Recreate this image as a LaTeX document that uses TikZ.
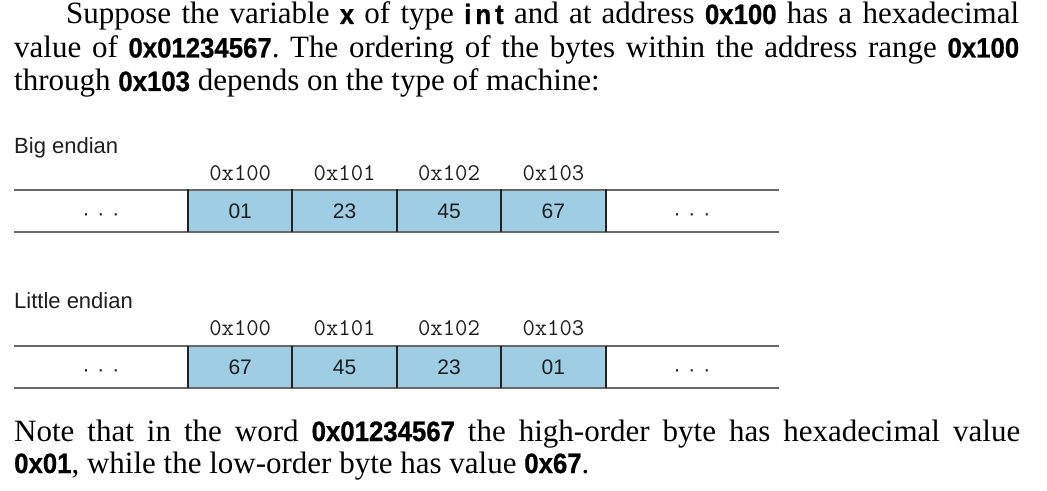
\documentclass[tikz,border=0pt]{standalone}
\usepackage{fontspec}
\setmainfont{Liberation Serif}
\newfontfamily\hvfont{Liberation Sans}
\newfontfamily\codebold[FakeStretch=0.92,FakeBold=0.8]{Liberation Sans}
\newcommand\hexb[1]{{\codebold\bfseries\fontsize{28bp}{30bp}\selectfont #1}}
\definecolor{cellblue}{RGB}{159,206,228}
\definecolor{hgray}{RGB}{105,105,105}
\definecolor{vdark}{RGB}{35,35,35}
\definecolor{txtdark}{RGB}{30,30,30}
\begin{document}
\begin{tikzpicture}[x=1bp,y=-1bp,
  body/.style={anchor=base west, inner sep=0, font=\frenchspacing\fontsize{31bp}{34bp}\selectfont},
  lab/.style={anchor=base west, inner sep=0, text=txtdark, font=\hvfont\fontsize{22bp}{26bp}\selectfont},
  addr/.style={anchor=base, inner sep=0, text=txtdark, font=\ttfamily\fontsize{24bp}{28bp}\selectfont},
  cell/.style={fill=cellblue, minimum width=104.4bp, minimum height=42.6bp, inner sep=0, text=txtdark, font=\hvfont\fontsize{21bp}{24bp}\selectfont},
  dotsty/.style={anchor=base, inner sep=0, text=txtdark, font=\hvfont\fontsize{21bp}{24bp}\selectfont},
  hline/.style={draw=hgray, line width=1.8bp},
  vline/.style={draw=vdark, line width=1.8bp}]
\useasboundingbox (0,0) rectangle (1047,491);

% --- top paragraph
\node[body] (t1) at (66,24) {\makebox[953bp][s]{Suppose the variable \hexb{x} of type \hexb{i\hspace{4bp}n\hspace{4bp}t} and at address \hexb{0x100} has a hexadecimal}};
\node[body] (t2) at (14,57.5) {\makebox[1005bp][s]{value of \hexb{0x01234567}. The ordering of the bytes within the address range \hexb{0x100}}};
\node[body] (t3) at (14,91) {through \hexb{0x103} depends on the type of machine:};

% --- big endian
\node[lab] (bigl) at (14,153.3) {Big endian};
\foreach \v [count=\i from 0] in {01,23,45,67}
  \node[cell] (b\i) at (240.2+104.4*\i,211) {\v};
\foreach \a [count=\i from 0] in {0x100,0x101,0x102,0x103}
  \node[addr] (ba\i) at (240.2+104.4*\i,180.7) {\a};
\coordinate (bL1) at (14,189.7);
\coordinate (bR1) at (779,189.7);
\coordinate (bL2) at (14,232.3);
\coordinate (bR2) at (779,232.3);
\draw[hline] (bL1) -- (bR1);
\draw[hline] (bL2) -- (bR2);
\foreach \i in {0,...,3}
  \draw[vline] (b\i.north west) -- (b\i.south west);
\draw[vline] (b3.north east) -- (b3.south east);
\node[dotsty] (bdl) at (101,220.5) {·\hspace{8bp}·\hspace{8bp}·};
\node[dotsty] (bdr) at (692,220.5) {·\hspace{8bp}·\hspace{8bp}·};

% --- little endian
\node[lab] (litl) at (14,308.5) {Little endian};
\foreach \v [count=\i from 0] in {67,45,23,01}
  \node[cell] (l\i) at (240.2+104.4*\i,367) {\v};
\foreach \a [count=\i from 0] in {0x100,0x101,0x102,0x103}
  \node[addr] (la\i) at (240.2+104.4*\i,336) {\a};
\coordinate (lL1) at (14,345.7);
\coordinate (lR1) at (779,345.7);
\coordinate (lL2) at (14,388.3);
\coordinate (lR2) at (779,388.3);
\draw[hline] (lL1) -- (lR1);
\draw[hline] (lL2) -- (lR2);
\foreach \i in {0,...,3}
  \draw[vline] (l\i.north west) -- (l\i.south west);
\draw[vline] (l3.north east) -- (l3.south east);
\node[dotsty] (ldl) at (101,376.5) {·\hspace{8bp}·\hspace{8bp}·};
\node[dotsty] (ldr) at (692,376.5) {·\hspace{8bp}·\hspace{8bp}·};

% --- bottom paragraph
\node[body] (n1) at (14,441) {\makebox[1006bp][s]{Note that in the word \hexb{0x01234567} the high-order byte has hexadecimal value}};
\node[body] (n2) at (14,473) {\hexb{0x01}, while the low-order byte has value \hexb{0x67}.};
\end{tikzpicture}
\end{document}
